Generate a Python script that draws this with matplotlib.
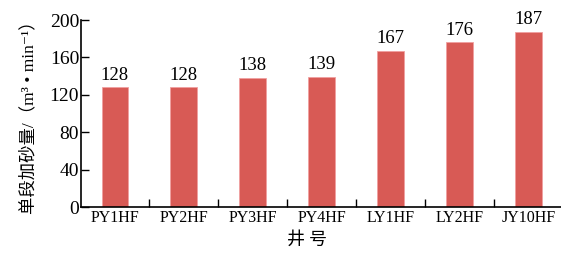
import numpy as np
import matplotlib.pyplot as plt

# well names and sand-adding rate per stage
wells = ['PY1HF', 'PY2HF', 'PY3HF', 'PY4HF', 'LY1HF', 'LY2HF', 'JY10HF']
sand_rate = [128, 128, 138, 139, 167, 176, 187]

plt.rcParams['font.family'] = ['Liberation Serif', 'Noto Sans CJK SC', 'DejaVu Sans']

fig = plt.figure(figsize=(5.61, 2.54), dpi=100)
ax = fig.add_axes([0.1435, 0.185, 0.86, 0.736])

x = np.arange(len(wells))
ax.bar(x, sand_rate, width=0.39, color='#d85a55', edgecolor='#f0a0a0', linewidth=0.6)
for xi, v in zip(x, sand_rate):
    ax.text(xi, v + 4, str(v), ha='center', va='bottom', fontsize=13.5)

ax.set_xlim(-0.5, 6.5)
ax.set_ylim(0, 200)
ax.set_yticks([0, 40, 80, 120, 160, 200])
ax.set_xticks(x)
ax.set_xticklabels(wells, fontsize=11.5)
ax.set_xticks(np.arange(0.5, 6.5, 1), minor=True)
ax.tick_params(axis='x', which='major', length=0, pad=2)
ax.tick_params(axis='x', which='minor', direction='in', length=6, width=1)
ax.tick_params(axis='y', direction='in', length=6, width=1, labelsize=14, pad=1)

ax.spines['top'].set_visible(False)
ax.spines['right'].set_visible(False)
ax.spines['left'].set_linewidth(1.2)
ax.spines['bottom'].set_linewidth(1.2)

ax.set_xlabel('井 号', fontsize=13, family=['Noto Sans CJK SC'])
ax.xaxis.set_label_coords(0.47, -0.125)
ax.set_ylabel('单段加砂量/（m³ • min⁻¹）', fontsize=12.5, labelpad=9)

fig.savefig('out.png', dpi=100)
